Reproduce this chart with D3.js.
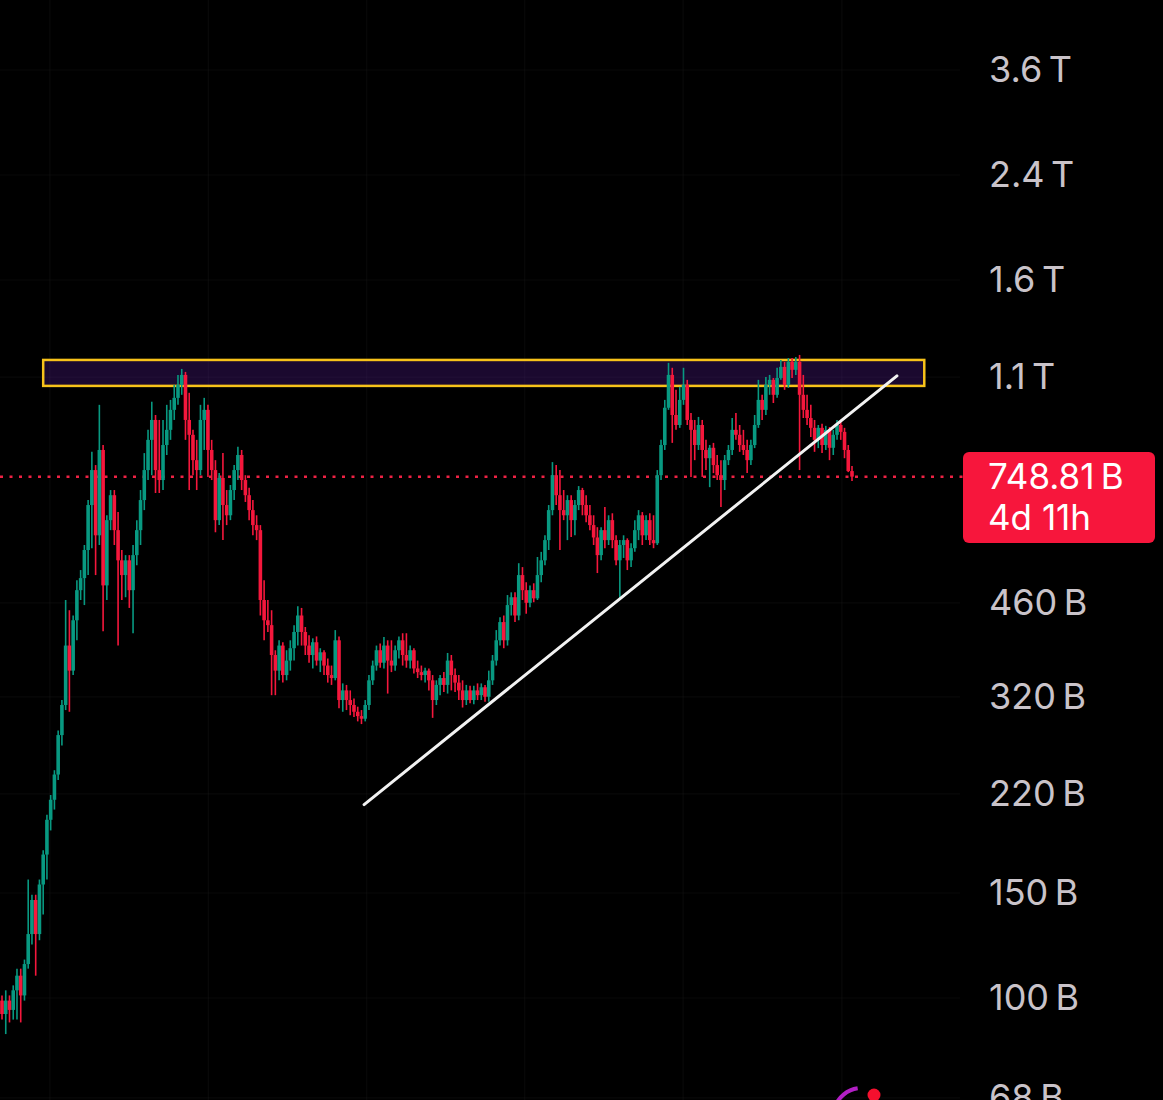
<!DOCTYPE html>
<html>
<head>
<meta charset="utf-8">
<script src="https://cdn.jsdelivr.net/npm/d3@7"></script>
<style>
  html, body { margin: 0; padding: 0; background: #000; overflow: hidden; }
  svg { display: block; }
</style>
</head>
<body>
<svg id="chart"></svg>
<script>
// weekly candles, market cap in billions: [open, high, low, close]
const candles = [
  [99,101,92,94],[94,103,87,99],[99,101,91,95.5],[95.5,105,92,103],[103,112,92,109],
  [109,112,91,101],[101,116,99,114],[114,158,112,128],[128,149,123,146],[146,149,109,128],
  [128,158,125,155],[155,177,138,174],[174,203,158,199],[199,219,191,215],[215,241,207,237],
  [237,281,232,276],[276,316,265,310],[310,465,304,390],[390,447,302,354],[354,438,348,430],
  [430,502,398,483],[483,522,465,506],[506,575,456,564],[564,684,512,671],[671,824,568,768],
  [768,783,512,597],[597,988,575,830],[830,846,412,492],[492,645,465,633],[633,711,609,697],
  [697,711,575,609],[609,653,390,542],[542,564,465,512],[512,553,470,542],[542,553,451,483],
  [483,575,409,553],[553,633,532,609],[609,711,575,684],[684,820,658,768],[768,897,739,863],
  [863,1000,753,932],[932,950,703,768],[768,932,703,739],[739,932,711,846],[846,988,814,897],
  [897,1007,863,969],[969,1067,932,1015],[1015,1109,988,1067],[1067,1135,1027,1109],[1109,1122,863,932],
  [932,1035,711,880],[880,897,753,798],[798,863,711,768],[768,988,753,932],[932,1015,830,969],
  [969,988,748,830],[830,863,739,768],[768,798,604,633],[633,759,621,745],[745,820,586,671],
  [671,711,621,645],[645,725,633,711],[711,783,684,768],[768,840,739,814],[814,830,711,739],
  [739,753,679,697],[697,717,633,658],[658,684,597,621],[621,645,586,609],[609,621,438,465],
  [465,502,398,430],[430,465,411,422],[422,447,322,376],[376,383,322,354],[354,398,341,390],
  [390,395,338,348],[348,383,341,368],[368,398,354,386],[386,422,368,411],[411,454,390,438],
  [438,451,390,411],[411,419,376,390],[390,406,365,376],[376,401,357,395],[395,404,361,368],
  [368,386,352,380],[380,383,348,361],[361,371,338,348],[348,361,335,344],[344,414,341,398],
  [398,404,306,316],[316,337,302,328],[328,335,304,316],[316,328,298,310],[310,318,296,302],
  [302,308,291,297],[297,304,288,294],[294,316,291,310],[310,348,304,341],[341,368,335,361],
  [361,390,354,383],[383,393,358,365],[365,403,357,390],[390,398,324,368],[368,398,352,361],
  [361,390,354,383],[383,404,371,398],[398,409,361,376],[376,409,358,368],[368,390,357,383],
  [383,386,350,357],[357,368,344,352],[352,361,341,348],[348,358,338,354],[354,357,328,341],
  [341,348,295,316],[316,341,310,335],[335,348,322,344],[344,352,326,335],[335,379,324,368],
  [368,376,328,348],[348,357,326,338],[338,348,316,328],[328,341,307,316],[316,335,310,328],
  [328,334,312,316],[316,334,311,328],[328,337,316,322],[322,337,316,332],[332,335,314,320],
  [320,354,314,341],[341,376,335,368],[368,414,361,398],[398,435,390,427],[427,438,386,398],
  [398,474,390,456],[456,479,438,470],[470,479,427,438],[438,536,430,512],[512,528,465,483],
  [483,498,441,460],[460,492,452,483],[483,496,461,468],[468,549,465,512],[512,560,498,542],
  [542,597,532,586],[586,671,564,658],[658,792,645,753],[753,783,671,697],[697,768,564,658],
  [658,711,633,645],[645,697,586,684],[684,697,593,633],[633,684,597,671],[671,722,658,711],
  [711,717,645,671],[671,697,628,645],[645,671,609,621],[621,645,575,592],[592,616,516,553],
  [553,616,542,609],[609,666,568,586],[586,645,575,633],[633,650,568,586],[586,597,532,542],
  [542,586,465,575],[575,597,547,586],[586,590,522,542],[542,579,528,568],[568,633,560,609],
  [609,658,586,645],[645,653,575,597],[597,645,586,633],[633,650,575,586],[586,645,568,579],
  [579,768,575,753],[753,863,739,846],[846,1007,830,977],[977,1162,969,1109],[1109,1140,853,950],
  [950,1047,897,914],[914,1059,904,1007],[1007,1140,988,1067],[1067,1088,914,932],[932,957,748,897],
  [897,932,798,846],[846,943,830,914],[914,932,748,830],[830,863,768,804],[804,846,719,837],
  [837,853,759,783],[783,814,739,753],[753,798,666,739],[739,814,711,798],[798,846,783,830],
  [830,939,814,897],[897,957,863,880],[880,914,824,846],[846,897,814,830],[830,863,759,798],
  [798,863,783,846],[846,950,836,914],[914,1088,904,1007],[1007,1027,932,969],[969,1100,950,1067],
  [1067,1109,1027,1088],[1088,1096,995,1027],[1027,1140,1015,1096],[1096,1175,1088,1144],[1144,1166,1047,1067],
  [1067,1184,1055,1166],[1166,1184,1096,1131],[1131,1189,1109,1166],[1166,1198,768,1027],[1027,1109,939,969],
  [969,1027,914,939],[939,988,873,904],[904,932,824,863],[863,914,836,904],[904,918,820,846],
  [846,911,830,897],[897,907,798,837],[837,897,814,880],[880,932,863,914],[914,932,863,890],
  [890,904,804,830],[830,846,762,765],[765,780,736,748.81]
]

const tickValues = [68, 100, 150, 220, 320, 460, 1100, 1600, 2400, 3600]
const tickLabels = ['68\u2009B', '100\u2009B', '150\u2009B', '220\u2009B', '320\u2009B', '460\u2009B',
  '1.1\u2009T', '1.6\u2009T', '2.4\u2009T', '3.6\u2009T']
const gridWeeks = [12.8, 55.1, 97.4, 139.6, 181.9, 224.3]

// resistance zone [from week, to week], [low, high] in billions
const zoneWeeks = [11, 246.3]
const zoneRange = [1063, 1175]
// rising trend line [week, value]
const trendLine = [[96.7, 211], [239.0, 1105]]

const lastPrice = 748.81
const lastLabel = ['748.81\u2009B', '4d 11h']

let width = 1163
let height = 1100
let svg = d3.select('#chart').attr('width', width).attr('height', height)
svg.append('rect').attr('width', width).attr('height', height).attr('fill', '#000')

const x = d3.scaleLinear()
  .domain([0, candles.length - 1])
  .range([2, 852])
const y = d3.scaleLog()
  .domain([3600, 100])
  .range([70, 998])

const green = '#089981'
const red = '#f5173c'

// faint grid, almost invisible on black
let grid = svg.append('g').attr('stroke', '#ffffff').attr('stroke-opacity', 0.035).attr('stroke-width', 1.2)
grid.selectAll('.gx')
  .data(gridWeeks)
  .enter()
  .append('line')
  .attr('x1', d => x(d)).attr('x2', d => x(d))
  .attr('y1', 0).attr('y2', height)
grid.selectAll('.gy')
  .data(tickValues)
  .enter()
  .append('line')
  .attr('x1', 0).attr('x2', 960)
  .attr('y1', d => y(d)).attr('y2', d => y(d))

// resistance zone (translucent, so the grid shows through a bit lighter)
svg.append('rect')
  .attr('x', x(zoneWeeks[0]))
  .attr('y', y(zoneRange[1]))
  .attr('width', x(zoneWeeks[1]) - x(zoneWeeks[0]))
  .attr('height', y(zoneRange[0]) - y(zoneRange[1]))
  .attr('fill', '#5a1f9a')
  .attr('fill-opacity', 0.3)
  .attr('stroke', '#f7c21a')
  .attr('stroke-width', 2.5)

// last price dotted line
svg.append('line')
  .attr('x1', 0).attr('x2', 963)
  .attr('y1', y(lastPrice)).attr('y2', y(lastPrice))
  .attr('stroke', '#ee2244')
  .attr('stroke-width', 2.5)
  .attr('stroke-dasharray', '3 6.5')

// candles
let candle = svg.append('g')
  .selectAll('g')
  .data(candles)
  .enter()
  .append('g')
  .attr('fill', d => d[3] >= d[0] ? green : red)
  .attr('stroke', d => d[3] >= d[0] ? green : red)

candle.append('line')
  .attr('x1', (d, i) => x(i)).attr('x2', (d, i) => x(i))
  .attr('y1', d => y(d[1])).attr('y2', d => y(d[2]))
  .attr('stroke-width', 1.6)

candle.append('rect')
  .attr('stroke', 'none')
  .attr('x', (d, i) => x(i) - 1.8)
  .attr('width', 3.6)
  .attr('y', d => Math.min(y(d[0]), y(d[3])))
  .attr('height', d => Math.max(1.5, Math.abs(y(d[0]) - y(d[3]))))

// trend line
svg.append('line')
  .attr('x1', x(trendLine[0][0])).attr('y1', y(trendLine[0][1]))
  .attr('x2', x(trendLine[1][0])).attr('y2', y(trendLine[1][1]))
  .attr('stroke', '#f2f2f2')
  .attr('stroke-width', 3)
  .attr('stroke-linecap', 'round')

// price scale
const yAxis = d3.axisRight(y)
  .tickValues(tickValues)
  .tickFormat(d => tickLabels[tickValues.indexOf(d)])
  .tickSize(0)
  .tickPadding(0)

svg.append('g')
  .attr('transform', 'translate(989, 0)')
  .call(yAxis)
  .call(g => g.select('.domain').remove())
  .selectAll('text')
  .attr('fill', '#c9c3c9')
  .style('font-family', 'Inter, "Noto Sans", sans-serif')
  .style('font-size', '36px')

// last price tag
svg.append('rect')
  .attr('x', 963).attr('y', 452)
  .attr('width', 192).attr('height', 91)
  .attr('rx', 6)
  .attr('fill', '#f7163c')

svg.selectAll('.tag')
  .data(lastLabel)
  .enter()
  .append('text')
  .attr('x', 988)
  .attr('y', (d, i) => y(lastPrice) + i * 41)
  .attr('dy', '0.36em')
  .attr('fill', '#ffffff')
  .style('font-family', 'Inter, "Noto Sans", sans-serif')
  .style('font-size', '35px')
  .text(d => d)

// little logo peeking at the bottom
svg.append('path')
  .attr('transform', 'translate(862, 1117)')
  .attr('d', d3.arc().innerRadius(27).outerRadius(31).startAngle(-1.2).endAngle(-0.15)())
  .attr('fill', '#b21fc4')
svg.append('circle')
  .attr('cx', 874).attr('cy', 1095)
  .attr('r', 6.5)
  .attr('fill', '#f5102e')
</script>
</body>
</html>
